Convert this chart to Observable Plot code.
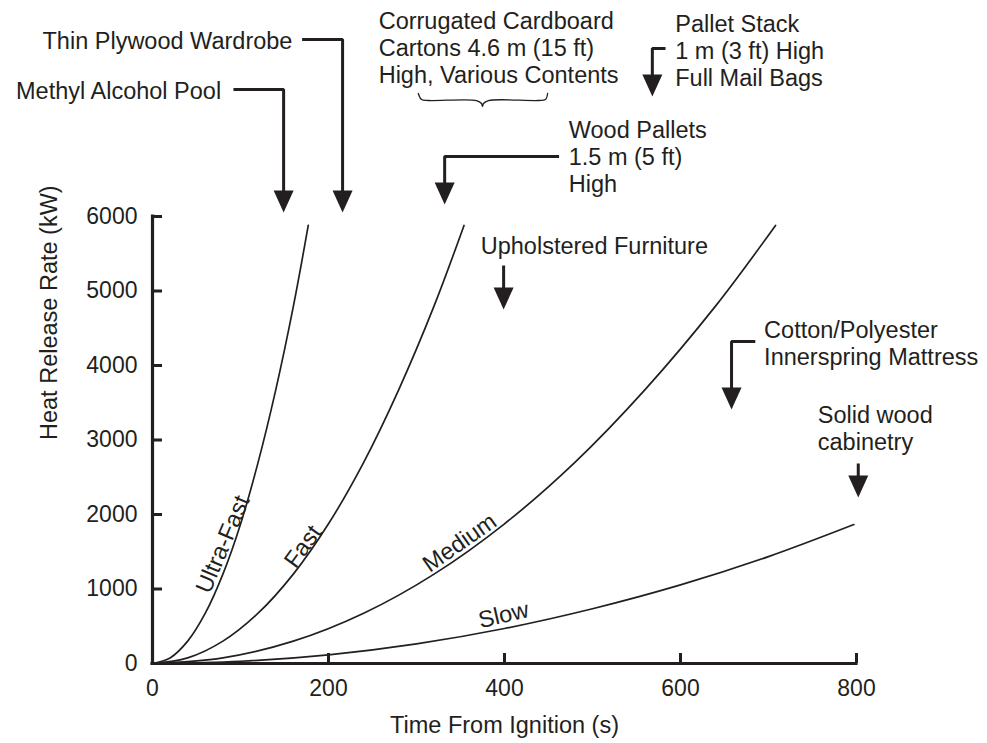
<!DOCTYPE html>
<html><head><meta charset="utf-8">
<script src="https://cdn.jsdelivr.net/npm/d3@7"></script>
<script src="https://cdn.jsdelivr.net/npm/@observablehq/plot@0.6"></script>
<style>html,body{margin:0;padding:0;background:#fff;} svg{display:block;}</style>
</head><body><div id="chart"></div>
<script>
// ---- axis ticks ----
const xTicks = [0, 200, 400, 600, 800];
const yTicks = [0, 1000, 2000, 3000, 4000, 5000, 6000];

// ---- curves (time s, heat release rate kW) ----
const seriesNames = ["Ultra-Fast", "Fast", "Medium", "Slow"];
const ultraFastTime = [0, 20, 40, 60, 80, 100, 120, 140, 160, 177];
const ultraFastHRR  = [0, 75, 300, 675, 1200, 1870, 2700, 3670, 4790, 5880];
const fastTime = [0, 40, 80, 120, 160, 200, 240, 280, 320, 354];
const fastHRR  = [0, 75, 300, 675, 1200, 1875, 2700, 3680, 4800, 5880];
const mediumTime = [0, 80, 160, 240, 320, 400, 480, 560, 640, 708];
const mediumHRR  = [0, 75, 300, 675, 1200, 1875, 2700, 3680, 4800, 5880];
const slowTime = [0, 100, 200, 300, 400, 500, 600, 700, 797];
const slowHRR  = [0, 30, 117, 264, 470, 735, 1055, 1435, 1865];

// curve labels
const curveLabelTime = [80, 171, 349, 399];
const curveLabelHRR  = [1600, 1570, 1620, 650];
const curveLabelAngle = [-67, -54, -35, -13];

// ---- annotations (data units) ----
const annotationText = [
  "Methyl Alcohol Pool",
  "Thin Plywood Wardrobe",
  "Corrugated Cardboard\nCartons 4.6 m (15 ft)\nHigh, Various Contents",
  "Pallet Stack\n1 m (3 ft) High\nFull Mail Bags",
  "Wood Pallets\n1.5 m (5 ft)\nHigh",
  "Upholstered Furniture",
  "Cotton/Polyester\nInnerspring Mattress",
  "Solid wood\ncabinetry"
];
const annotationTime = [78, 159, 257, 594, 473, 373, 695, 756];
const annotationHRR  = [7690, 8363, 8269, 8228, 6805, 5611, 4302, 3161];
const annotationAlign = ["end", "end", "start", "start", "start", "start", "start", "start"];

const arrowPaths = [
  [[92, 7705], [149, 7705], [149, 6294]],
  [[170, 8376], [216, 8376], [216, 6294]],
  [[462, 6805], [332, 6805], [332, 6401]],
  [[583, 8255], [568, 8255], [568, 7851]],
  [[399, 5342], [399, 4992]],
  [[685, 4322], [658, 4322], [658, 3649]],
  [[802, 2685], [802, 2468]]
];
const arrowTips = [[149, 6054], [216, 6054], [332, 6161], [568, 7611], [399, 4752], [658, 3409], [802, 2228]];

const braceTime = [302, 305.7, 313.6, 368.2, 373.9, 375, 376.1, 381.8, 438.6, 446.6, 449];
const braceHRR  = [7651, 7571, 7557, 7557, 7517, 7477, 7517, 7557, 7557, 7571, 7651];

// ---- build tables ----
const curveRows = [];
[[ultraFastTime, ultraFastHRR], [fastTime, fastHRR], [mediumTime, mediumHRR], [slowTime, slowHRR]]
  .forEach(([ts, qs], i) => ts.forEach((t, j) => curveRows.push({name: seriesNames[i], t, q: qs[j]})));
const curveLabels = seriesNames.map((name, i) => ({name, t: curveLabelTime[i], q: curveLabelHRR[i], a: curveLabelAngle[i]}));
const annotations = annotationText.map((text, i) => ({text, t: annotationTime[i], q: annotationHRR[i], align: annotationAlign[i]}));
const shaftRows = arrowPaths.flatMap((p, i) => p.map(([t, q]) => ({id: i, t, q})));
const tipRows = arrowTips.map(([t, q]) => ({t, q}));
const braceRows = braceTime.map((t, i) => ({t, q: braceHRR[i]}));

const ink = "#231f20";
const arrowHead = {
  draw(context) {
    context.moveTo(0, 0);
    context.lineTo(-10, -22);
    context.lineTo(10, -22);
    context.closePath();
  }
};
const labelFont = 23.5;

const chart = Plot.plot({
  width: 987,
  height: 743,
  marginLeft: 152,
  marginRight: 131,
  marginTop: 216,
  marginBottom: 80,
  x: {domain: [0, 800]},
  y: {domain: [0, 6000]},
  style: {fontFamily: "'Liberation Sans', Arial, sans-serif", fontSize: "23px", color: ink, background: "#fff"},
  marks: [
    // curves
    Plot.line(curveRows, {x: "t", y: "q", z: "name", stroke: ink, strokeWidth: 1.7, curve: "catmull-rom"}),
    // axis lines
    Plot.ruleX([0], {stroke: ink, strokeWidth: 3.2, strokeLinecap: "square"}),
    Plot.ruleY([0], {stroke: ink, strokeWidth: 3.2, strokeLinecap: "square"}),
    // inward ticks
    Plot.ruleX(xTicks.slice(1), {stroke: ink, strokeWidth: 3, insetTop: 437}),
    Plot.ruleY(yTicks.slice(1), {stroke: ink, strokeWidth: 3, insetRight: 694}),
    // tick labels
    Plot.axisX({ticks: xTicks, tickSize: 0, tickPadding: 16, label: null, tickFormat: d => String(d)}),
    Plot.axisY({ticks: yTicks, tickSize: 0, tickPadding: 15, label: null, tickFormat: d => String(d)}),
    // axis titles
    Plot.text(["Time From Ignition (s)"], {frameAnchor: "bottom", dy: 62, text: d => d, lineAnchor: "middle", fontSize: labelFont}),
    Plot.text(["Heat Release Rate (kW)"], {frameAnchor: "left", dx: -103, rotate: -90, text: d => d, fontSize: labelFont}),
    // curve labels
    Plot.text(curveLabels, {x: "t", y: "q", text: "name", rotate: d => d.a, fontSize: labelFont}),
    // annotations
    Plot.text(annotations.filter(d => d.align === "end"), {x: "t", y: "q", text: "text", textAnchor: "end", lineHeight: 1.15, fontSize: labelFont}),
    Plot.text(annotations.filter(d => d.align === "start"), {x: "t", y: "q", text: "text", textAnchor: "start", lineHeight: 1.15, fontSize: labelFont}),
    Plot.line(shaftRows, {x: "t", y: "q", z: "id", stroke: ink, strokeWidth: 3, strokeLinejoin: "miter", strokeLinecap: "butt"}),
    Plot.dot(tipRows, {x: "t", y: "q", symbol: arrowHead, fill: ink, stroke: "none"}),
    Plot.line(braceRows, {x: "t", y: "q", stroke: ink, strokeWidth: 1.3, curve: "catmull-rom"})
  ]
});
document.getElementById("chart").appendChild(chart);
</script>
</body></html>
